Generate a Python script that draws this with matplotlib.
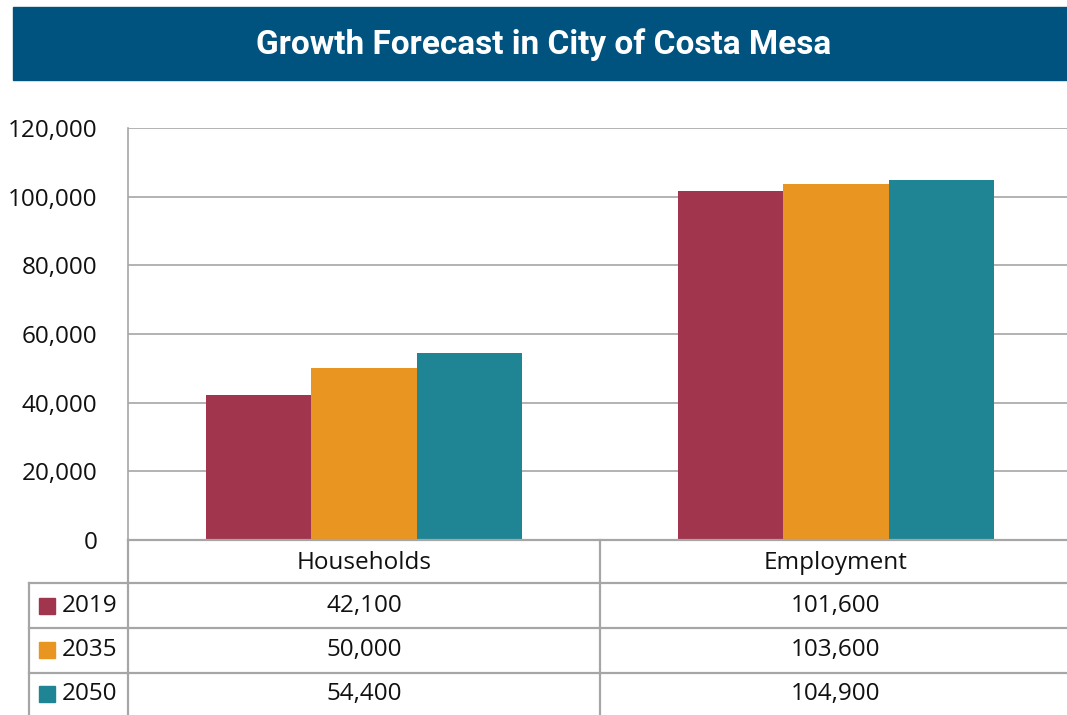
import numpy as np
import matplotlib
matplotlib.use("Agg")
from matplotlib import pyplot as plt
from matplotlib import transforms
from matplotlib.patches import Rectangle

# 数据
categories = ["Households", "Employment"]
years = ["2019", "2035", "2050"]
values_2019 = [42100, 101600]
values_2035 = [50000, 103600]
values_2050 = [54400, 104900]
series = [values_2019, values_2035, values_2050]
colors = ["#A1354E", "#E89522", "#1F8595"]
yticks = [0, 20000, 40000, 60000, 80000, 100000, 120000]
title = "Growth Forecast in City of Costa Mesa"

W, H = 1067, 715
grid_c = "#a6a6a6"

fig = plt.figure(figsize=(W / 100, H / 100), dpi=100)

# 柱状图区域
ax = fig.add_axes([128 / W, (H - 540) / H, (1072 - 128) / W, 412 / H])
x = np.arange(len(categories))
bw = 0.223
for i, (vals, c) in enumerate(zip(series, colors)):
    ax.bar(x + (i - 1) * bw, vals, width=bw, color=c, zorder=3)
ax.set_xlim(-0.5, 1.5)
ax.set_ylim(0, 120000)
ax.set_yticks(yticks)
ax.set_yticklabels([f"{v:,}" for v in yticks], fontfamily="Open Sans", fontsize=17.5)
ax.tick_params(axis="y", length=0, pad=22, colors="#111111")
ax.set_xticks([])
ax.grid(axis="y", color=grid_c, linewidth=1.2, zorder=0)
for s in ["top", "right", "bottom"]:
    ax.spines[s].set_visible(False)
ax.spines["left"].set_color(grid_c)
ax.spines["left"].set_linewidth(1.2)

# 覆盖层：标题栏和数据表
tax = fig.add_axes([0, 0, 1, 1], zorder=5)
tax.set_xlim(0, W)
tax.set_ylim(H, 0)
tax.axis("off")
tax.patch.set_alpha(0)

tax.add_patch(Rectangle((13, 7), W - 13, 73, color="#00527F"))
tax.text(544, 45, title, color="white", fontfamily="Roboto", fontweight="bold",
         fontsize=24, ha="center", va="center")

lk = dict(color=grid_c, linewidth=1.6)
tax.plot([128, W], [540, 540], **lk)
tax.plot([128, 128], [540, H], **lk)
tax.plot([600, 600], [540, H], **lk)
for yy in [583, 628, 673]:
    tax.plot([29, W], [yy, yy], **lk)
tax.plot([29, 29], [583, H], **lk)

tr = transforms.blended_transform_factory(ax.transData, tax.transData)
tfont = dict(fontfamily="Open Sans", fontsize=17.5, color="#111111", va="center")
for j, cat in enumerate(categories):
    tax.text(j, 563, cat, transform=tr, ha="center", **tfont)
row_y = [606, 650, 694]
for i, (yr, vals, c) in enumerate(zip(years, series, colors)):
    tax.add_patch(Rectangle((39, row_y[i] - 8), 16, 16, color=c))
    tax.text(62, row_y[i], yr, ha="left", **tfont)
    for j, v in enumerate(vals):
        tax.text(j, row_y[i], f"{v:,}", transform=tr, ha="center", **tfont)

fig.savefig("out.png", dpi=100)
